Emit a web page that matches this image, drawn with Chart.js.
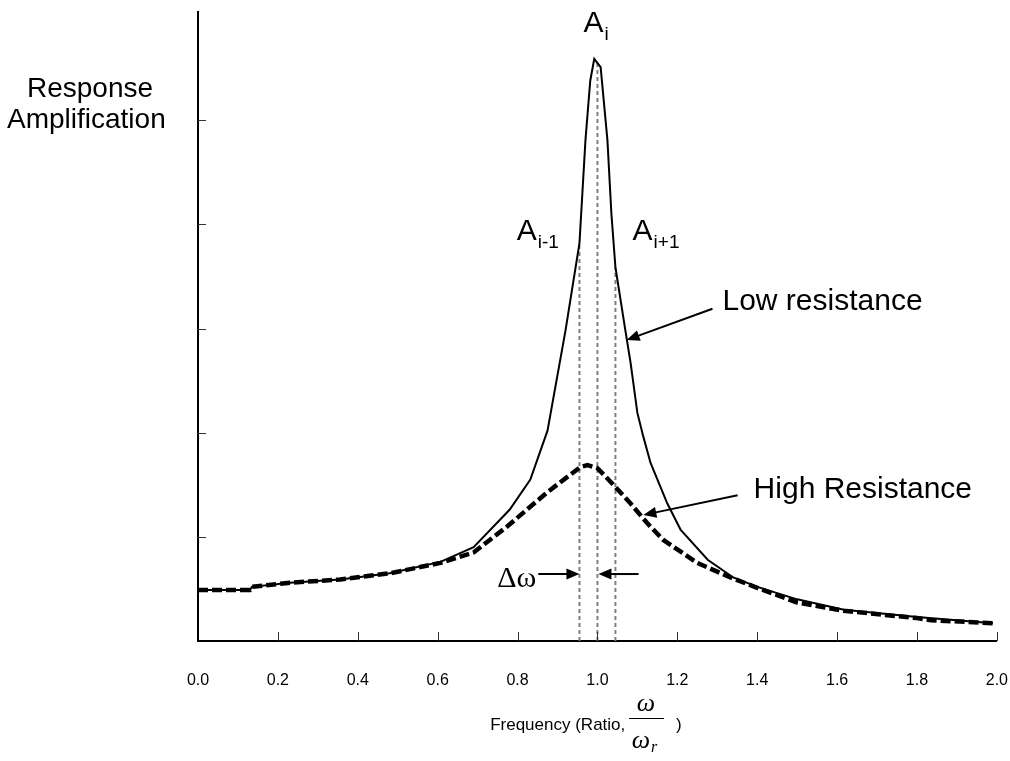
<!DOCTYPE html>
<html>
<head>
<meta charset="utf-8">
<script src="https://cdn.jsdelivr.net/npm/chart.js@4.4.1/dist/chart.umd.min.js"></script>
<style>
  html, body { margin: 0; padding: 0; background: #fff; }
</style>
</head>
<body>
<canvas id="chart" width="1010" height="761"></canvas>
<script>
const SANS = "'Liberation Sans', Arial, sans-serif";
const SERIF = "'Liberation Serif', 'Times New Roman', serif";

// low resistance (solid) curve
const LOW_X = [0, 0.13, 0.135, 0.23, 0.356, 0.48, 0.607, 0.69, 0.78, 0.832, 0.875, 0.92, 0.955, 0.97, 0.982, 0.992, 1.008, 1.025, 1.035, 1.045, 1.07, 1.083, 1.10, 1.115, 1.133, 1.175, 1.208, 1.276, 1.34, 1.40, 1.50, 1.617, 1.80, 1.99];
const LOW_Y = [0.49, 0.49, 0.52, 0.56, 0.59, 0.65, 0.76, 0.90, 1.26, 1.55, 2.02, 2.98, 3.82, 4.81, 5.38, 5.59, 5.51, 4.81, 4.10, 3.59, 2.98, 2.67, 2.19, 1.96, 1.71, 1.32, 1.07, 0.78, 0.61, 0.52, 0.40, 0.30, 0.23, 0.17];

// high resistance (dashed) curve
const HIGH_X = [0, 0.13, 0.135, 0.23, 0.356, 0.48, 0.607, 0.69, 0.774, 0.875, 0.957, 0.975, 1.0, 1.04, 1.083, 1.125, 1.165, 1.25, 1.333, 1.40, 1.50, 1.617, 1.80, 1.835, 1.99];
const HIGH_Y = [0.49, 0.49, 0.52, 0.56, 0.59, 0.65, 0.75, 0.85, 1.10, 1.43, 1.67, 1.69, 1.66, 1.50, 1.32, 1.13, 0.97, 0.75, 0.61, 0.51, 0.37, 0.29, 0.22, 0.20, 0.17];

// half-power band markers
const BAND_X = [0.955, 1.0, 1.045];
const BAND_TOP = [3.82, 5.55, 3.59];

const Y_TICKS = [1, 2, 3, 4, 5];

function pts(xs, ys) {
  return xs.map((x, i) => ({ x, y: ys[i] }));
}

function arrow(ctx, x1, y1, x2, y2) {
  const a = Math.atan2(y2 - y1, x2 - x1);
  const L = 13, W = 5.5;
  ctx.beginPath();
  ctx.moveTo(x1, y1);
  ctx.lineTo(x2 - L * 0.7 * Math.cos(a), y2 - L * 0.7 * Math.sin(a));
  ctx.stroke();
  ctx.beginPath();
  ctx.moveTo(x2, y2);
  ctx.lineTo(x2 - L * Math.cos(a) + W * Math.sin(a), y2 - L * Math.sin(a) - W * Math.cos(a));
  ctx.lineTo(x2 - L * Math.cos(a) - W * Math.sin(a), y2 - L * Math.sin(a) + W * Math.cos(a));
  ctx.closePath();
  ctx.fill();
}

function subText(ctx, base, sub, x, y, size) {
  ctx.font = `${size}px ${SANS}`;
  ctx.fillText(base, x, y);
  const w = ctx.measureText(base).width;
  ctx.font = `${Math.round(size * 0.62)}px ${SANS}`;
  ctx.fillText(sub, x + w + 1, y + 8);
}

const annotate = {
  id: "annotate",
  afterDraw(chart) {
    const { ctx, scales: { x, y } } = chart;
    const px = (v) => x.getPixelForValue(v);
    const py = (v) => y.getPixelForValue(v);
    ctx.save();
    ctx.fillStyle = "#000";

    // inward tick marks
    ctx.lineWidth = 1;
    ctx.strokeStyle = "#333";
    x.ticks.forEach((t) => {
      if (t.value === 0) return;
      const xx = Math.round(px(t.value)) + 0.5;
      ctx.beginPath();
      ctx.moveTo(xx, py(0));
      ctx.lineTo(xx, py(0) - 9);
      ctx.stroke();
    });
    Y_TICKS.forEach((v) => {
      const yy = Math.round(py(v)) + 0.5;
      ctx.beginPath();
      ctx.moveTo(px(0), yy);
      ctx.lineTo(px(0) + 8, yy);
      ctx.stroke();
    });

    ctx.strokeStyle = "#000";
    ctx.textBaseline = "alphabetic";
    ctx.textAlign = "left";

    // y label
    ctx.font = `28px ${SANS}`;
    ctx.fillText("Response", 27, 97);
    ctx.fillText("Amplification", 7, 128);

    // amplitude labels
    subText(ctx, "A", "i", px(0.965), py(5.845), 30);
    subText(ctx, "A", "i-1", px(0.798), py(3.85), 30);
    subText(ctx, "A", "i+1", px(1.088), py(3.85), 30);

    ctx.font = `30px ${SANS}`;
    ctx.fillText("Low resistance", px(1.313), py(3.18));
    ctx.fillText("High Resistance", px(1.391), py(1.372));

    ctx.lineWidth = 2;
    arrow(ctx, px(1.288), py(3.19), px(1.073), py(2.89));
    arrow(ctx, px(1.351), py(1.40), px(1.115), py(1.21));

    ctx.font = `30px ${SERIF}`;
    ctx.fillText("\u0394\u03c9", px(0.749), py(0.52));
    arrow(ctx, px(0.852), py(0.643), px(0.955), py(0.643));
    arrow(ctx, px(1.103), py(0.643), px(1.0025), py(0.643));

    // x title
    ctx.font = `17px ${SANS}`;
    ctx.textAlign = "right";
    ctx.fillText("Frequency (Ratio, ", 630, 730);
    ctx.textAlign = "left";
    ctx.fillText(")", 676, 730);
    ctx.font = `italic 26px ${SERIF}`;
    ctx.textAlign = "center";
    ctx.fillText("\u03c9", 646, 711);
    ctx.fillText("\u03c9", 641, 748);
    ctx.font = `italic 16px ${SERIF}`;
    ctx.textAlign = "left";
    ctx.fillText("r", 651, 752);
    ctx.lineWidth = 1;
    ctx.beginPath();
    ctx.moveTo(629, 718.5);
    ctx.lineTo(664, 718.5);
    ctx.stroke();

    ctx.restore();
  },
};

const datasets = [
  {
    label: "Low resistance",
    data: pts(LOW_X, LOW_Y),
    borderColor: "#000",
    borderWidth: 2,
    pointRadius: 0,
    tension: 0,
  },
  {
    label: "High Resistance",
    data: pts(HIGH_X, HIGH_Y),
    borderColor: "#000",
    borderWidth: 4.5,
    borderDash: [10, 4],
    pointRadius: 0,
    tension: 0,
  },
];
BAND_X.forEach((bx, i) => {
  datasets.push({
    label: "band" + i,
    data: [{ x: bx, y: 0 }, { x: bx, y: BAND_TOP[i] }],
    borderColor: "#808080",
    borderWidth: 2,
    borderDash: [4, 3],
    pointRadius: 0,
  });
});

new Chart(document.getElementById("chart"), {
  type: "line",
  data: { datasets },
  options: {
    responsive: false,
    animation: false,
    layout: { padding: { left: 198, right: 0, top: 12, bottom: 0 } },
    plugins: { legend: { display: false }, tooltip: { enabled: false } },
    scales: {
      x: {
        type: "linear",
        min: 0,
        max: 2,
        // tick marks are drawn inward by the plugin; tickLength only spaces the labels
        grid: { display: false, drawTicks: true, tickLength: 28 },
        border: { display: true, color: "#000", width: 2 },
        ticks: {
          stepSize: 0.2,
          autoSkip: false,
          maxRotation: 0,
          padding: 2,
          color: "#000",
          font: { family: SANS, size: 16 },
          callback: (v) => Number(v).toFixed(1),
        },
        afterFit: (s) => { s.height = 120; },
      },
      y: {
        min: 0,
        max: 6.04,
        grid: { display: false, drawTicks: false },
        border: { display: true, color: "#000", width: 2 },
        ticks: { display: false },
        afterFit: (s) => { s.width = 0; },
      },
    },
  },
  plugins: [annotate],
});
</script>
</body>
</html>
